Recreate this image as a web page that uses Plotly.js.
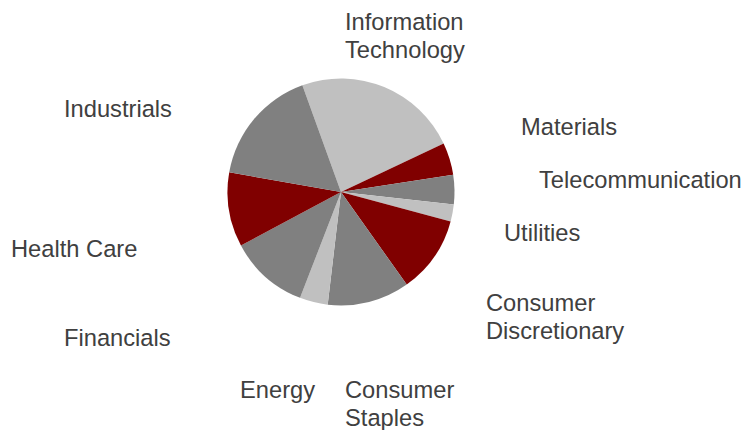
<!DOCTYPE html>
<html>
<head>
<meta charset="utf-8">
<script src="https://cdn.plot.ly/plotly-3.0.1.min.js"></script>
<style>
  html, body { margin: 0; padding: 0; background: #ffffff; }
  #chart { width: 746px; height: 430px; }
</style>
</head>
<body>
<div id="chart"></div>
<script>
// Sector weights (%), in clockwise order starting just left of 12 o'clock
const sectors = [
  "Information Technology", "Materials", "Telecommunication", "Utilities",
  "Consumer Discretionary", "Consumer Staples", "Energy", "Financials",
  "Health Care", "Industrials"
];
const weights = [23.5, 4.6, 4.2, 2.4, 11.0, 11.7, 4.0, 11.3, 10.6, 16.7];
const sliceColors = [
  "#c0c0c0", "#800000", "#808080", "#c0c0c0",
  "#800000", "#808080", "#c0c0c0", "#808080",
  "#800000", "#808080"
];

// Label lines for each sector (wrapped text)
const labelLines = [
  ["Information", "Technology"], ["Materials"], ["Telecommunication"], ["Utilities"],
  ["Consumer", "Discretionary"], ["Consumer", "Staples"], ["Energy"], ["Financials"],
  ["Health Care"], ["Industrials"]
];
// Label placement: left edge (px) and first-line centre (px from top)
const labelX = [344, 520, 538, 503, 485, 344, 239, 63, 10, 63];
const labelY = [22, 127, 180, 233, 303, 390, 390, 338, 249, 109];
const lineGap = 28;

const W = 746, H = 430;
const cx = 341, cy = 192, r = 113.5;

const annotations = [];
labelLines.forEach((lines, i) => {
  lines.forEach((txt, j) => {
    annotations.push({
      text: txt,
      xref: "paper", yref: "paper",
      x: labelX[i] / W,
      y: 1 - (labelY[i] + j * lineGap) / H,
      xanchor: "left", yanchor: "middle",
      showarrow: false,
      borderpad: 0,
      font: { family: "Liberation Sans, Arial, sans-serif", size: 23.7, color: "#404040" }
    });
  });
});

const trace = {
  type: "pie",
  labels: sectors,
  values: weights,
  sort: false,
  direction: "clockwise",
  rotation: -19.9,
  marker: { colors: sliceColors, line: { width: 0 } },
  textinfo: "none",
  hoverinfo: "label+percent",
  domain: {
    x: [(cx - r) / W, (cx + r) / W],
    y: [1 - (cy + r) / H, 1 - (cy - r) / H]
  }
};

const layout = {
  width: W, height: H,
  margin: { l: 0, r: 0, t: 0, b: 0 },
  paper_bgcolor: "#ffffff",
  plot_bgcolor: "#ffffff",
  showlegend: false,
  annotations: annotations
};

Plotly.newPlot("chart", [trace], layout, { displayModeBar: false, staticPlot: true });
</script>
</body>
</html>
